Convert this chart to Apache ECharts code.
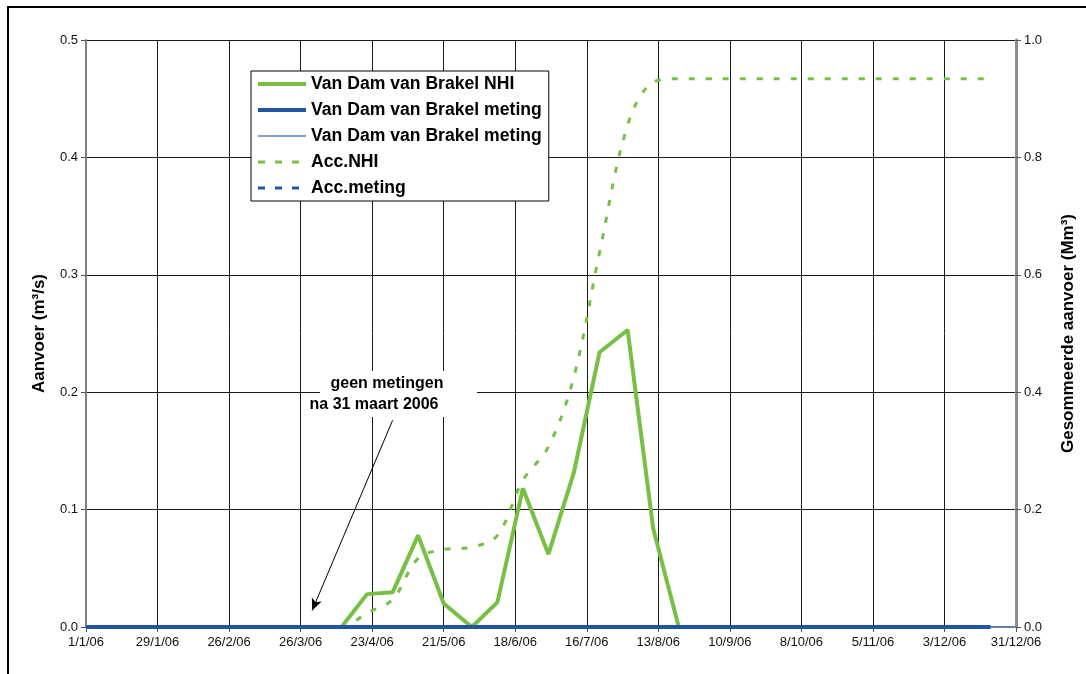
<!DOCTYPE html>
<html>
<head>
<meta charset="utf-8">
<script src="https://cdn.jsdelivr.net/npm/echarts@6/dist/echarts.min.js"></script>
<style>html,body{margin:0;padding:0;background:#fff;}#c{width:1086px;height:674px;}</style>
</head>
<body>
<div id="c"></div>
<script>
// dekad dates (x positions)
const dekadDates = [
  '2006-01-01','2006-01-11','2006-01-21','2006-02-01','2006-02-11','2006-02-21',
  '2006-03-01','2006-03-11','2006-03-21','2006-04-01','2006-04-11','2006-04-21',
  '2006-05-01','2006-05-11','2006-05-21','2006-06-01','2006-06-11','2006-06-21',
  '2006-07-01','2006-07-11','2006-07-21','2006-08-01','2006-08-11','2006-08-21',
  '2006-09-01','2006-09-11','2006-09-21','2006-10-01','2006-10-11','2006-10-21',
  '2006-11-01','2006-11-11','2006-11-21','2006-12-01','2006-12-11','2006-12-21'
];
// Van Dam van Brakel NHI (m3/s)
const nhiValues = [
  0,0,0,0,0,0,0,0,0,0,
  0,0.028,0.0295,0.078,0.020,0.0,0.021,0.118,0.062,0.132,0.234,0.253,0.084,0,
  0,0,0,0,0,0,0,0,0,0,0,0
];
// Van Dam van Brakel meting (thick)
const metingValues = [
  0,0,0,0,0,0,0,0,0,0,0,0,0,0,0,0,0,0,
  0,0,0,0,0,0,0,0,0,0,0,0,0,0,0,0,0,0
];
// Van Dam van Brakel meting (thin)
const metingThinDates = ['2006-01-01','2006-12-30'];
const metingThinValues = [0,0];
// Acc.NHI (Mm3)
const accNhiValues = [
  0,0,0,0,0,0,0,0,0,0,
  0,0.024,0.047,0.117,0.132,0.136,0.156,0.250,0.307,0.427,0.638,0.855,0.928,0.934,
  0.934,0.934,0.934,0.934,0.934,0.934,0.934,0.934,0.934,0.934,0.934,0.934
];
// Acc.meting (Mm3)
const accMetingValues = [
  0,0,0,0,0,0,0,0,0,0,0,0,0,0,0,0,0,0,
  0,0,0,0,0,0,0,0,0,0,0,0,0,0,0,0,0,0
];
const seriesNames = ['Van Dam van Brakel NHI','Van Dam van Brakel meting','Van Dam van Brakel meting ','Acc.NHI','Acc.meting'];
const xStart = '2006-01-01', xEnd = '2006-12-31', xTickDays = 28;
const leftTicks = {min:0, max:0.5, interval:0.1};
const rightTicks = {min:0, max:1.0, interval:0.2};

const t0 = Date.UTC(2006,0,1);
function dayOf(s){ const p = s.split('-'); return (Date.UTC(+p[0], +p[1]-1, +p[2]) - t0)/864e5; }
function pairs(ds, vs){ return ds.map((d,i)=>[dayOf(d), vs[i]]); }
function fmtDay(v){ const d = new Date(t0 + v*864e5); return d.getUTCDate()+'/'+(d.getUTCMonth()+1)+'/'+String(d.getUTCFullYear()).slice(2); }

const GREEN = '#78c043', BLUE = '#2154a3', BLUE_T = '#4f81bd';
const FONT = '"Liberation Sans", Arial, sans-serif';

const legendStyles = [
  {color:GREEN, width:4, type:'solid'},
  {color:BLUE, width:4, type:'solid'},
  {color:BLUE_T, width:1.5, type:'solid'},
  {color:GREEN, width:3, type:[7,10]},
  {color:BLUE, width:3, type:[7,10]}
];

const chart = echarts.init(document.getElementById('c'));
chart.setOption({
  animation:false,
  backgroundColor:'#fff',
  textStyle:{fontFamily:FONT},
  grid:{left:86, right:70, top:40, bottom:47, containLabel:false},
  legend:{
    orient:'vertical', left:251, top:71,
    backgroundColor:'#fff', borderColor:'#000', borderWidth:1,
    padding:[4,7,4,5], itemGap:8, itemWidth:48, itemHeight:18,
    textStyle:{fontFamily:FONT, fontWeight:'bold', fontSize:17.6, color:'#000', lineHeight:18},
    itemStyle:{opacity:0},
    data: seriesNames.map((n,i)=>({name:n, itemStyle:{opacity:0}, lineStyle:legendStyles[i]})),
    formatter: n => n.trim()
  },
  xAxis:{
    type:'value', min:dayOf(xStart), max:dayOf(xEnd), interval:xTickDays,
    axisLine:{show:true, onZero:false, lineStyle:{color:'#808080', width:2}},
    axisTick:{show:true, length:5, lineStyle:{color:'#555'}},
    axisLabel:{formatter:fmtDay, fontSize:13, color:'#111', margin:9, fontFamily:FONT},
    splitLine:{show:true, lineStyle:{color:'#1a1a1a', width:1}}
  },
  yAxis:[{
    type:'value', min:leftTicks.min, max:leftTicks.max, interval:leftTicks.interval,
    name:'Aanvoer (m³/s)', nameLocation:'middle', nameGap:38,
    nameTextStyle:{fontFamily:FONT, fontWeight:'bold', fontSize:17, color:'#000'},
    axisLine:{show:true, lineStyle:{color:'#808080', width:2}},
    axisTick:{show:true, length:5, lineStyle:{color:'#555'}},
    axisLabel:{formatter:v=>v.toFixed(1), fontSize:13, color:'#111', margin:8, fontFamily:FONT},
    splitLine:{show:true, lineStyle:{color:'#1a1a1a', width:1}}
  },{
    type:'value', min:rightTicks.min, max:rightTicks.max, interval:rightTicks.interval,
    position:'right',
    name:'Gesommeerde aanvoer (Mm³)', nameLocation:'middle', nameGap:44,
    nameTextStyle:{fontFamily:FONT, fontWeight:'bold', fontSize:17, color:'#000'},
    axisLine:{show:true, lineStyle:{color:'#8c8c8c', width:3}},
    axisTick:{show:true, length:5, lineStyle:{color:'#555'}},
    axisLabel:{formatter:v=>v.toFixed(1), fontSize:13, color:'#111', margin:8, fontFamily:FONT},
    splitLine:{show:false}
  }],
  series:[
    {name:seriesNames[0], type:'line', yAxisIndex:0, data:pairs(dekadDates,nhiValues),
     showSymbol:false, symbol:'none', lineStyle:{color:GREEN, width:4}, itemStyle:{color:GREEN}, z:3,
     markLine:{silent:true, symbol:['none','arrow'], symbolSize:[8,12],
       lineStyle:{color:'#000', width:1, type:'solid'}, label:{show:false},
       data:[[{coord:[120,0.176]},{coord:[88.5,0.014]}]]}},
    {name:seriesNames[3], type:'line', yAxisIndex:1, data:pairs(dekadDates,accNhiValues),
     showSymbol:false, symbol:'none', smooth:0.35, lineStyle:{color:GREEN, width:3, type:[6,11]}, itemStyle:{color:GREEN}, z:4},
    {name:seriesNames[4], type:'line', yAxisIndex:1, data:pairs(dekadDates,accMetingValues),
     showSymbol:false, symbol:'none', lineStyle:{color:BLUE, width:3, type:[6,11]}, itemStyle:{color:BLUE}, z:4},
    {name:seriesNames[2], type:'line', yAxisIndex:0, data:pairs(metingThinDates,metingThinValues),
     showSymbol:false, symbol:'none', lineStyle:{color:BLUE_T, width:1.5}, itemStyle:{color:BLUE_T}, z:5},
    {name:seriesNames[1], type:'line', yAxisIndex:0, data:pairs(dekadDates,metingValues),
     showSymbol:false, symbol:'none', lineStyle:{color:BLUE, width:4}, itemStyle:{color:BLUE}, z:6}
  ],
  graphic:[
    {type:'rect', z:100, silent:true, shape:{x:8, y:7, width:1100, height:700},
     style:{fill:null, stroke:'#000', lineWidth:2}},
    {type:'rect', z:50, silent:true, shape:{x:320, y:371, width:157, height:46},
     style:{fill:'#fff', stroke:null}},
    {type:'text', z:60, silent:true, x:387, y:384,
     style:{text:'geen metingen', font:'bold 16px '+FONT, fill:'#000', textAlign:'center', textVerticalAlign:'middle'}},
    {type:'text', z:60, silent:true, x:374, y:405,
     style:{text:'na 31 maart 2006', font:'bold 16px '+FONT, fill:'#000', textAlign:'center', textVerticalAlign:'middle'}}
  ]
});
</script>
</body>
</html>
